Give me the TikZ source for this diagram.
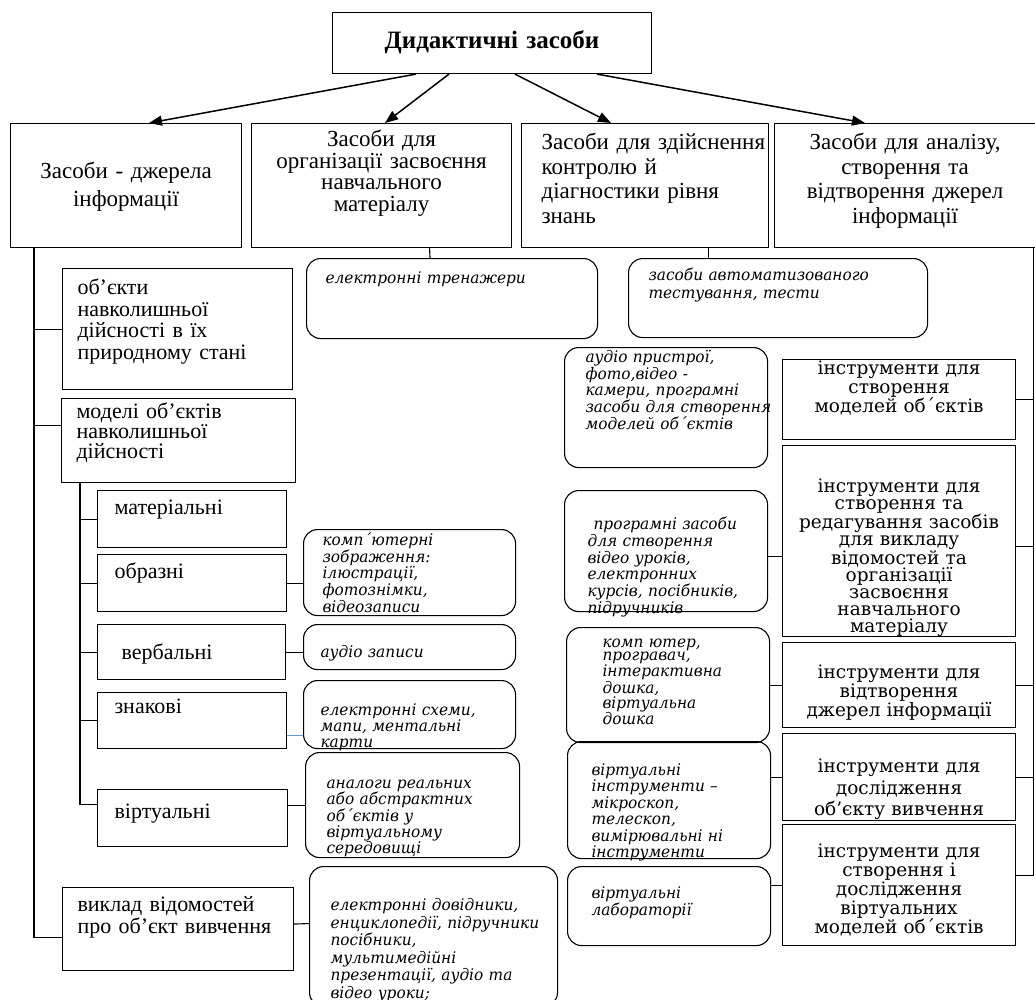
\documentclass[tikz,border=0pt]{standalone}
\usepackage{fontspec}
\setmainfont{Liberation Serif}
\newfontfamily\lvfont{Liberation Serif}
\newfontfamily\rtfont{DejaVu Serif}
\newfontfamily\itfont[FakeStretch=0.96]{DejaVu Serif}
\usetikzlibrary{arrows.meta}
\definecolor{linkblue}{RGB}{91,155,213}

\begin{document}
\begin{tikzpicture}[x=1pt, y=-1pt, line width=1.1pt,
    frame/.code n args={6}{%
      \pgfmathsetmacro\frW{#3-#1}\pgfmathsetmacro\frH{#4-#2}%
      \pgfmathsetmacro\frTW{#3-#1-2*#6}%
      \pgfmathsetmacro\frT{#5-#2}\pgfmathsetmacro\frD{#4-#5}%
      \edef\frSet{at={(#1,#2)}, anchor=north west, inner xsep=#6pt, inner ysep=0pt,
        minimum width=\frW pt, minimum height=\frH pt, text width=\frTW pt,
        text height=\frT pt, text depth=\frD pt}%
      \expandafter\pgfkeysalso\expandafter{\frSet}},
    spill/.style={execute at begin node={\rightskip=0pt plus 1fil minus 2000pt}},
    titlebox/.style={draw, align=center, font=\lvfont\bfseries\fontsize{25}{26}\selectfont},
    groupbox/.style={draw, align=center, font=\lvfont\fontsize{23}{#1}\selectfont},
    groupbox/.default=24.5,
    kindbox/.style={draw, align=left, spill, font=\lvfont\fontsize{22}{#1}\selectfont},
    kindbox/.default=22,
    toolbox/.style={draw, align=center, font=\rtfont\fontsize{18.5}{#1}\selectfont},
    toolbox/.default=19,
    meansbox/.style={draw, rounded corners=14pt, align=left, spill,
      font=\itfont\itshape\fontsize{16}{#1}\selectfont},
    meansbox/.default=16.5,
    arrowlink/.style={-{Triangle[length=13pt,width=10pt]}, line width=1.5pt}]
\useasboundingbox (0,0) rectangle (1035,1000);

\node[titlebox, frame={332}{12}{651}{73}{48}{10}] (didact) {Дидактичні засоби};

\node[groupbox=28, frame={10}{123}{241}{247}{178}{8}] (source) {Засоби - джерела\\інформації};
\node[groupbox=21.5, frame={251}{123}{511}{247}{146}{6}] (organize) {Засоби для\\організації засвоєння\\навчального\\матеріалу};
\node[groupbox, align=left, spill, frame={521}{123}{768}{247}{149}{20}] (control) {Засоби для здійснення\\контролю й\\діагностики рівня\\знань};
\node[groupbox, frame={774}{123}{1035}{247}{149}{6}] (analysis) {Засоби для аналізу,\\створення та\\відтворення джерел\\інформації};

\node[kindbox=21.7, frame={62}{268}{292}{389}{294}{15}] (nature) {об’єкти\\навколишньої\\дійсності в їх\\природному стані};
\node[kindbox=20, frame={61}{398}{295}{482}{418}{15}] (models) {моделі об’єктів\\навколишньої\\дійсності};
\node[kindbox, frame={97}{490}{286}{547}{514}{17}] (material) {матеріальні};
\node[kindbox, frame={97}{554}{286}{611}{578}{17}] (figurative) {образні};
\node[kindbox, frame={97}{624}{285}{679}{659}{24}] (verbal) {вербальні};
\node[kindbox, frame={97}{692}{286}{748}{713}{17}] (sign) {знакові};
\node[kindbox, frame={97}{789}{287}{846}{818}{17}] (virtual) {віртуальні};
\node[kindbox, frame={62}{887}{293}{970}{911}{15}] (exposition) {виклад відомостей\\про об’єкт вивчення};

\node[meansbox, frame={306}{258}{597}{338}{283}{19}] (trainers) {електронні тренажери};
\node[meansbox=18, frame={628}{258}{927}{337}{280}{20}] (testing) {засоби автоматизованого\\тестування, тести};
\node[meansbox=16.7, frame={303}{529}{515}{615}{545}{19}] (images) {комп´ютерні\\зображення:\\ілюстрації,\\фотознімки,\\відеозаписи};
\node[meansbox, frame={303}{624}{515}{669}{657}{17}] (audio) {аудіо записи};
\node[meansbox=16, frame={303}{680}{515}{748}{715}{17}] (maps) {електронні схеми,\\мапи, ментальні\\карти};
\node[meansbox=16.3, frame={305}{752}{519}{857}{788}{21}] (analogs) {аналоги реальних\\або абстрактних\\об´єктів у\\віртуальному\\середовищі};
\node[meansbox=17.5, frame={309}{866}{557}{1006}{910}{21}] (refs) {електронні довідники,\\енциклопедії, підручники\\посібники,\\мультимедійні\\презентації, аудіо та\\відео уроки;};

\node[meansbox=13.2, frame={564}{347}{767}{467}{362}{21}] (devices) {аудіо пристрої,\\фото,відео -\\камери, програмні\\засоби для створення\\моделей об´єктів};
\node[meansbox=16.8, frame={564}{490}{767}{611}{529}{23}] (software) {\hspace*{6pt}програмні засоби\\для створення\\відео уроків,\\електронних\\курсів, посібників,\\підручників};
\node[meansbox=13, frame={566}{627}{769}{742}{647}{36}] (boards) {комп ютер,\\програвач,\\інтерактивна\\дошка,\\віртуальна\\дошка};
\node[meansbox=16.4, frame={567}{741}{770}{858}{775}{24}] (virtinst) {віртуальні\\інструменти –\\мікроскоп,\\телескоп,\\вимірювальні ні\\інструменти};
\node[meansbox=16, frame={567}{866}{770}{945}{898}{24}] (labs) {віртуальні\\лабораторії};

\node[toolbox, frame={782}{359}{1015}{439}{374}{4}] (forms) {інструменти для\\створення\\моделей об´єктів};
\node[toolbox=17, frame={782}{445}{1015}{636}{492}{4}] (editors) {інструменти для\\створення та\\редагування засобів\\для викладу\\відомостей та\\організації\\засвоєння\\навчального\\матеріалу};
\node[toolbox=16, frame={782}{642}{1015}{727}{678}{4}] (players) {інструменти для\\відтворення\\джерел інформації};
\node[toolbox=21.5, frame={782}{733}{1015}{820}{772}{4}] (research) {інструменти для\\дослідження\\об’єкту вивчення};
\node[toolbox, frame={782}{824}{1015}{945}{857}{4}] (labtools) {інструменти для\\створення і\\дослідження\\віртуальних\\моделей об´єктів};

\draw[arrowlink] ([xshift=84pt]didact.south west) -- ([xshift=139pt]source.north west);
\draw[arrowlink] ([xshift=117pt]didact.south west) -- ([xshift=134pt]organize.north west);
\draw[arrowlink] ([xshift=183pt]didact.south west) -- ([xshift=90pt]control.north west);
\draw[arrowlink] ([xshift=265pt]didact.south west) -- ([xshift=91pt]analysis.north west);

\draw ([xshift=24pt]source.south west) |- (nature.west);
\draw ([xshift=24pt]source.south west) |- ([yshift=15pt]models.west);
\draw ([xshift=24pt]source.south west) |- ([yshift=-8pt]exposition.west);
\draw ([xshift=19pt]models.south west) |- (material.west);
\draw ([xshift=19pt]models.south west) |- (figurative.west);
\draw ([xshift=19pt]models.south west) |- (verbal.west);
\draw ([xshift=19pt]models.south west) |- (sign.west);
\draw ([xshift=19pt]models.south west) |- ([yshift=14pt]virtual.west);

\draw ([xshift=-3pt]analysis.south east) |- (forms.east);
\draw ([xshift=-3pt]analysis.south east) |- ([yshift=-5pt]editors.east);
\draw ([xshift=-3pt]analysis.south east) |- (players.east);
\draw ([xshift=-3pt]analysis.south east) |- (research.east);
\draw ([xshift=-3pt]analysis.south east) |- ([yshift=10pt]labtools.east);

\draw ([xshift=48pt]organize.south) -- ([xshift=-22pt]trainers.north);
\draw ([xshift=63pt]control.south) -- ([xshift=-70pt]testing.north);

\draw (figurative.east) -- (figurative.east -| images.west);
\draw (verbal.east) -- (verbal.east -| audio.west);
\draw[linkblue] ([yshift=-15pt]sign.east) -- ([yshift=-21pt]maps.west);
\draw (analogs.west -| virtual.east) -- (analogs.west);
\draw ([yshift=5pt]exposition.east) -- ([yshift=13pt]refs.west);
\draw ([yshift=-5pt]software.east) -- ([yshift=-15pt]editors.west);
\draw (players.west -| boards.east) -- (players.west);
\draw (research.west -| virtinst.east) -- (research.west);
\draw (labtools.west -| labs.east) -- (labtools.west);
\end{tikzpicture}
\end{document}
